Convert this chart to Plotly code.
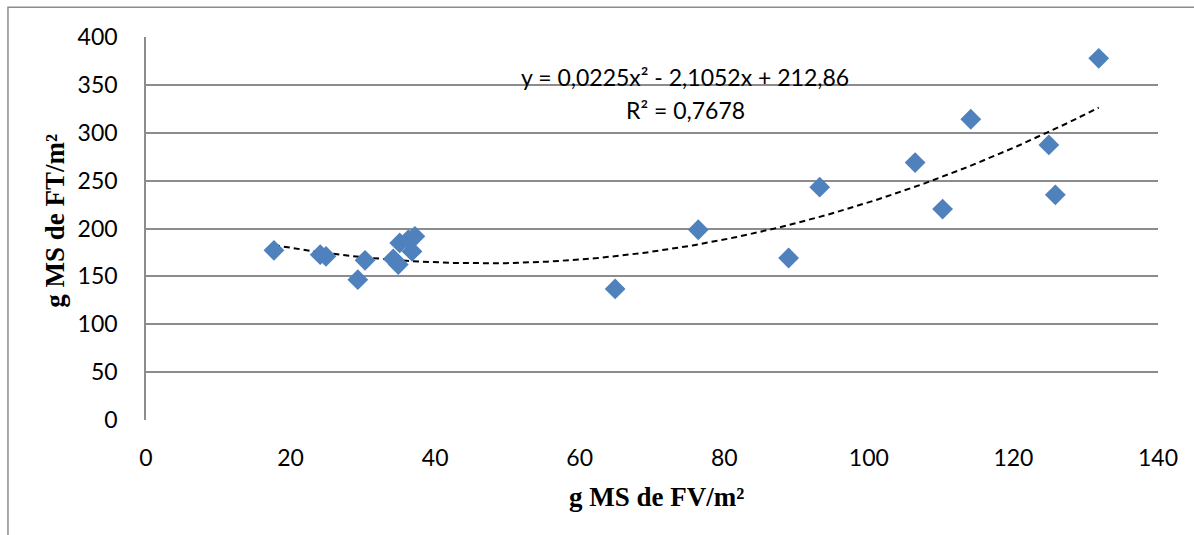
import numpy as np
import plotly.graph_objects as go

# Data
fv = [17.7, 24.1, 24.9, 29.3, 30.3, 34.2, 34.9, 35.1, 36.3, 37.2, 36.8,
      64.9, 76.4, 88.9, 93.2, 106.4, 110.2, 114.1, 124.9, 125.8, 131.8]
ft = [177.2, 172.7, 170.9, 146.6, 166.8, 168.2, 162.3, 184.9, 188.3, 191.8, 176.1,
      136.9, 198.7, 169.2, 243.2, 268.9, 220.3, 314.1, 287.3, 235.2, 377.7]

# Polynomial trendline coefficients as displayed on the chart (x^2, x, 1)
trend_coef = [0.0225, -2.1052, 212.86]
eq_text = "y = 0,0225x² - 2,1052x + 212,86"
r2_text = "R² = 0,7678"

x_ticks = [0, 20, 40, 60, 80, 100, 120, 140]
y_ticks = [0, 50, 100, 150, 200, 250, 300, 350, 400]

xs = np.linspace(min(fv), max(fv), 200)
ys = np.polyval(trend_coef, xs)

fig = go.Figure()
fig.add_trace(go.Scatter(
    x=xs, y=ys, mode="lines",
    line=dict(color="black", width=2, dash="6px,4px"),
    hoverinfo="skip", showlegend=False))
fig.add_trace(go.Scatter(
    x=fv, y=ft, mode="markers",
    marker=dict(symbol="diamond", size=16, color="#4F81BD", line=dict(width=0)),
    showlegend=False))

tick_font = dict(family="Lato, Carlito, sans-serif", size=23, color="black")
eq_font = dict(family="Lato, Carlito, sans-serif", size=23, color="black")
title_font = dict(family="Liberation Serif, Times New Roman, serif", size=27, color="black")

fig.update_layout(
    width=1194, height=535,
    margin=dict(l=146, r=36, t=37, b=115),
    paper_bgcolor="white", plot_bgcolor="white",
    xaxis=dict(range=[0, 140], tickvals=x_ticks, ticktext=[str(v) for v in x_ticks],
               showgrid=False, zeroline=False, showline=False,
               ticks="", tickfont=tick_font, ticklabelstandoff=22, fixedrange=True),
    yaxis=dict(range=[0, 400], tickvals=y_ticks, ticktext=[str(v) for v in y_ticks],
               showgrid=True, gridcolor="#8C8C8C", gridwidth=1.5,
               zeroline=False, showline=True, linecolor="#8C8C8C", linewidth=1.5,
               ticks="", tickfont=tick_font, ticklabelstandoff=22, fixedrange=True),
    annotations=[
        dict(x=74.6, y=358, xref="x", yref="y", yanchor="middle",
             text=eq_text, showarrow=False, font=eq_font),
        dict(x=74.6, y=324, xref="x", yref="y", yanchor="middle",
             text=r2_text, showarrow=False, font=eq_font),
        dict(x=0.504, y=-0.2, xref="paper", yref="paper", yanchor="middle", xanchor="center",
             text="<b>g MS de FV/m²</b>", showarrow=False, font=title_font),
        dict(x=-0.09, y=0.52, xref="paper", yref="paper", textangle=-90,
             xanchor="center", yanchor="middle",
             text="<b>g MS de FT/m²</b>", showarrow=False, font=title_font),
    ],
    shapes=[
        dict(type="rect", xref="paper", yref="paper",
             x0=-0.1364, x1=1.2, y0=-0.6, y1=1.0779,
             line=dict(color="#8C8C8C", width=1.5), fillcolor="rgba(0,0,0,0)", layer="below"),
    ],
)

fig.write_html("out.html")
